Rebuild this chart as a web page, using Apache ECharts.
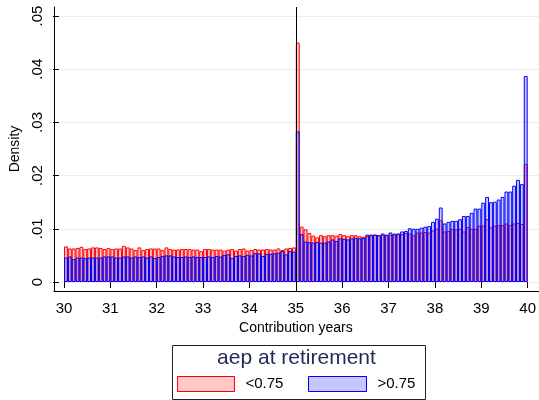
<!DOCTYPE html>
<html>
<head>
<meta charset="utf-8">
<script src="https://cdn.jsdelivr.net/npm/echarts@6/dist/echarts.min.js"></script>
<style>
html, body { margin: 0; background: #fff; }
#chart { width: 539px; height: 400px; }
</style>
</head>
<body>
<div id="chart"></div>
<script>
// monthly bins from 30 to 40 contribution years
var binStart = 30;
var binWidth = 1 / 12;
var xTickMin = 30, xTickMax = 40;
var yTickMax = 0.05, yTickStep = 0.01;

// density, aep at retirement < 0.75
var lowAep = [
    0.0067, 0.0063, 0.0063, 0.0064, 0.0066, 0.0062, 0.0063, 0.0065, 0.0065, 0.0064,
    0.0062, 0.0064, 0.0062, 0.0063, 0.0063, 0.0068, 0.0065, 0.0063, 0.0060, 0.0065,
    0.0060, 0.0062, 0.0063, 0.0063, 0.0063, 0.0060, 0.0065, 0.0062, 0.0061, 0.0061,
    0.0062, 0.0062, 0.0062, 0.0061, 0.0061, 0.0058, 0.0062, 0.0062, 0.0061, 0.0061,
    0.0061, 0.0059, 0.0061, 0.0062, 0.0059, 0.0062, 0.0063, 0.0059, 0.0060, 0.0062,
    0.0061, 0.0061, 0.0062, 0.0061, 0.0061, 0.0063, 0.0060, 0.0063, 0.0064, 0.0065,
    0.0450,
    0.0104, 0.0099, 0.0092, 0.0087, 0.0084, 0.0088, 0.0086, 0.0088, 0.0088, 0.0087,
    0.0090, 0.0088, 0.0086, 0.0088, 0.0088, 0.0086, 0.0085, 0.0086, 0.0088, 0.0089,
    0.0088, 0.0089, 0.0088, 0.0089, 0.0089, 0.0091, 0.0090, 0.0092, 0.0091, 0.0088,
    0.0093, 0.0093, 0.0094, 0.0093, 0.0097, 0.0100, 0.0116, 0.0095, 0.0096, 0.0100,
    0.0099, 0.0100, 0.0095, 0.0103, 0.0100, 0.0100, 0.0106, 0.0106, 0.0118, 0.0103,
    0.0106, 0.0107, 0.0107, 0.0110, 0.0107, 0.0110, 0.0111, 0.0109, 0.0222
];

// density, aep at retirement > 0.75
var highAep = [
    0.0046, 0.0048, 0.0043, 0.0046, 0.0046, 0.0045, 0.0046, 0.0046, 0.0046, 0.0046,
    0.0048, 0.0048, 0.0048, 0.0046, 0.0046, 0.0048, 0.0048, 0.0046, 0.0048, 0.0047,
    0.0048, 0.0046, 0.0048, 0.0045, 0.0047, 0.0049, 0.0050, 0.0050, 0.0048, 0.0047,
    0.0047, 0.0048, 0.0047, 0.0048, 0.0047, 0.0047, 0.0047, 0.0048, 0.0047, 0.0049,
    0.0048, 0.0051, 0.0052, 0.0045, 0.0049, 0.0050, 0.0049, 0.0051, 0.0050, 0.0054,
    0.0054, 0.0049, 0.0053, 0.0053, 0.0054, 0.0055, 0.0058, 0.0052, 0.0058, 0.0057,
    0.0283,
    0.0090, 0.0076, 0.0075, 0.0074, 0.0075, 0.0074, 0.0074, 0.0076, 0.0080, 0.0077,
    0.0082, 0.0081, 0.0080, 0.0082, 0.0083, 0.0082, 0.0083, 0.0089, 0.0089, 0.0089,
    0.0088, 0.0091, 0.0089, 0.0093, 0.0091, 0.0091, 0.0095, 0.0096, 0.0101, 0.0100,
    0.0100, 0.0102, 0.0104, 0.0105, 0.0113, 0.0119, 0.0140, 0.0110, 0.0113, 0.0115,
    0.0115, 0.0118, 0.0124, 0.0124, 0.0130, 0.0138, 0.0138, 0.0149, 0.0160, 0.0150,
    0.0151, 0.0155, 0.0160, 0.0170, 0.0170, 0.0181, 0.0192, 0.0184, 0.0387
];

var cutoffYear = 35;
var seriesNames = ['<0.75', '>0.75'];
var legendTitle = 'aep at retirement';

function toPairs(values) {
    return values.map(function (v, i) {
        return [binStart + (i + 0.5) * binWidth, v];
    });
}

var font = 'Liberation Sans, Arial, Helvetica, sans-serif';
var plotW = 539 - 64 - 10;
var barPx = plotW / ((xTickMax - xTickMin) / binWidth);
// y range of the data grid: axis line sits 9px below zero and 9px above .05
var yPad = 9 / 266 * yTickMax;

var chart = echarts.init(document.getElementById('chart'));
chart.setOption({
    animation: false,
    textStyle: { fontFamily: font },
    grid: [
        { left: 54, right: 0, top: 7, bottom: 109 },
        { left: 64, right: 10, top: 7, bottom: 109 },
        { left: 54, right: 0, top: 16, bottom: 118 }
    ],
    xAxis: [
        {
            gridIndex: 0, type: 'value', min: 0, max: 1,
            axisLine: { show: true, lineStyle: { color: '#000', width: 1 } },
            axisTick: { show: false }, axisLabel: { show: false }, splitLine: { show: false }
        },
        {
            gridIndex: 1, type: 'value', min: xTickMin, max: xTickMax, interval: 1,
            axisLine: { show: false },
            axisTick: { show: true, length: 6, lineStyle: { color: '#000' } },
            axisLabel: { fontSize: 15, color: '#000', margin: 10, fontFamily: font },
            splitLine: { show: false },
            name: 'Contribution years', nameLocation: 'middle', nameGap: 26,
            nameTextStyle: { fontSize: 14, color: '#000', fontFamily: font }
        },
        { gridIndex: 2, type: 'value', min: 0, max: 1, show: false }
    ],
    yAxis: [
        {
            gridIndex: 0, type: 'value', min: 0, max: 1,
            axisLine: { show: true, lineStyle: { color: '#000', width: 1 } },
            axisTick: { show: false }, axisLabel: { show: false }, splitLine: { show: false }
        },
        { gridIndex: 1, type: 'value', min: -yPad, max: yTickMax + yPad, show: false },
        {
            gridIndex: 2, type: 'value', min: 0, max: yTickMax, interval: yTickStep,
            axisLine: { show: false },
            axisTick: { show: true, length: 6, lineStyle: { color: '#000' } },
            axisLabel: {
                fontSize: 15, color: '#000', rotate: 90, margin: 14, fontFamily: font,
                formatter: function (v) { return v === 0 ? '0' : v.toFixed(2).replace(/^0/, ''); }
            },
            splitLine: { show: true, lineStyle: { color: '#e6eef0', width: 1 } },
            name: 'Density', nameLocation: 'middle', nameGap: 31,
            nameTextStyle: { fontSize: 14, color: '#000', fontFamily: font }
        }
    ],
    legend: [
        {
            left: 177, top: 376, padding: 0, icon: 'rect', selectedMode: false,
            itemWidth: 57, itemHeight: 15,
            textStyle: { fontSize: 15, color: '#000', padding: [0, 0, 0, 6], fontFamily: font },
            data: [{ name: seriesNames[0], itemStyle: { color: 'rgba(255,0,0,0.22)', borderColor: '#ff0000', borderWidth: 1 } }]
        },
        {
            left: 308, top: 376, padding: 0, icon: 'rect', selectedMode: false,
            itemWidth: 58, itemHeight: 15,
            textStyle: { fontSize: 15, color: '#000', padding: [0, 0, 0, 6], fontFamily: font },
            data: [{ name: seriesNames[1], itemStyle: { color: 'rgba(0,0,255,0.22)', borderColor: '#0000ff', borderWidth: 1 } }]
        }
    ],
    graphic: [
        {
            type: 'rect', left: 170, top: 343, z: 0, silent: true,
            shape: { width: 253, height: 54 },
            style: { fill: 'none', stroke: '#222', lineWidth: 1 }
        },
        {
            type: 'text', x: 296.5, y: 358, silent: true,
            style: {
                text: legendTitle, font: '21px ' + font, fill: '#1c2a55',
                textAlign: 'center', textVerticalAlign: 'middle'
            }
        }
    ],
    series: [
        {
            name: seriesNames[0], type: 'bar', xAxisIndex: 1, yAxisIndex: 1,
            barWidth: barPx, barGap: '-100%',
            itemStyle: { color: 'rgba(255,0,0,0.22)', borderColor: '#ff0000', borderWidth: 1 },
            data: toPairs(lowAep)
        },
        {
            name: seriesNames[1], type: 'bar', xAxisIndex: 1, yAxisIndex: 1,
            barWidth: barPx, barGap: '-100%',
            itemStyle: { color: 'rgba(0,0,255,0.22)', borderColor: '#0000ff', borderWidth: 1 },
            data: toPairs(highAep),
            markLine: {
                silent: true, symbol: 'none', animation: false,
                label: { show: false },
                lineStyle: { color: '#000', width: 1, type: 'solid' },
                data: [{ xAxis: cutoffYear }]
            }
        }
    ]
});
</script>
</body>
</html>
